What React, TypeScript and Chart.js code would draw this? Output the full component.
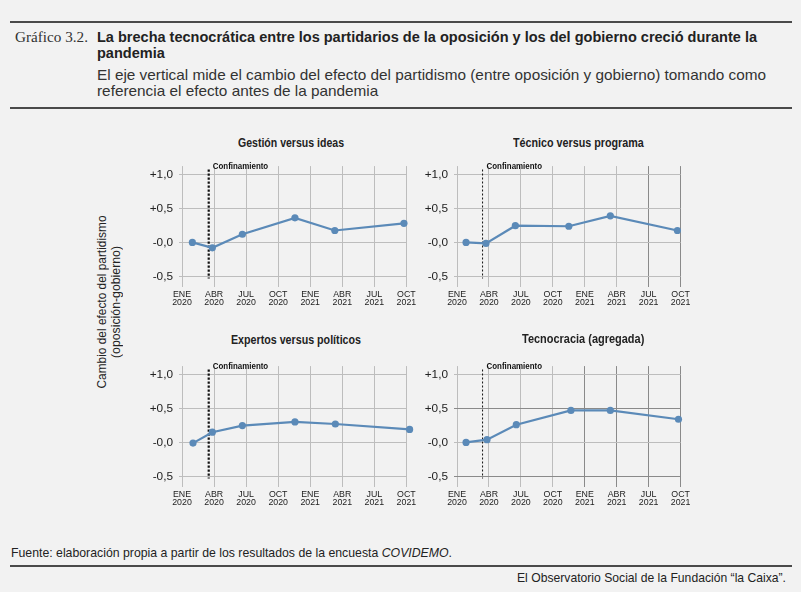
import React, { useEffect, useRef } from "react";
import { Chart, registerables } from "chart.js";
Chart.register(...registerables);

// ---- data ----
const monthTicks = [0, 3, 6, 9, 12, 15, 18, 21];
const xTickLabels = [
  ["ENE", "2020"], ["ABR", "2020"], ["JUL", "2020"], ["OCT", "2020"],
  ["ENE", "2021"], ["ABR", "2021"], ["JUL", "2021"], ["OCT", "2021"],
];
const yTicks = [-0.5, 0, 0.5, 1.0];
const yTickLabels = ["-0,5", "-0,0", "+0,5", "+1,0"];

const gestionX = [0.97, 2.84, 5.65, 10.57, 14.3, 20.77];
const gestionY = [0.0, -0.08, 0.12, 0.36, 0.175, 0.28];
const tecnicoX = [0.85, 2.72, 5.48, 10.5, 14.4, 20.7];
const tecnicoY = [0.0, -0.015, 0.245, 0.237, 0.39, 0.175];
const expertosX = [1.03, 2.84, 5.65, 10.57, 14.35, 21.3];
const expertosY = [-0.01, 0.15, 0.247, 0.3, 0.27, 0.19];
const tecnoX = [0.85, 2.82, 5.57, 10.7, 14.4, 20.8];
const tecnoY = [0.0, 0.04, 0.26, 0.47, 0.47, 0.34];

const panelTitles = [
  "Gestión versus ideas",
  "Técnico versus programa",
  "Expertos versus políticos",
  "Tecnocracia (agregada)",
];
const confinamientoMonth = [2.5, 2.4, 2.5, 2.4];

const SANS = '"Liberation Sans", Arial, sans-serif';
const SERIF = '"Liberation Serif", "DejaVu Serif", serif';
const LINE = "#5b8ab8";
const LIGHT = "#bdbdbd";
const DARK = "#8a8a8a";

let measureCtx: CanvasRenderingContext2D | null = null;
function measure(text: string, font: string): number {
  if (!measureCtx) measureCtx = document.createElement("canvas").getContext("2d");
  if (!measureCtx) return 1;
  measureCtx.font = font;
  return measureCtx.measureText(text).width || 1;
}

type FitProps = {
  left: number;
  top: number;
  width: number;
  refText: string;
  fontSize: number;
  bold?: boolean;
  family?: string;
  lineHeight?: number;
  color?: string;
  children: React.ReactNode;
};

function FitText({ left, top, width, refText, fontSize, bold, family = SANS, lineHeight = 16, color = "#222", children }: FitProps) {
  const font = `${bold ? "bold " : ""}${fontSize}px ${family}`;
  const k = width / measure(refText, font);
  return (
    <div
      style={{
        position: "absolute",
        left,
        top,
        fontFamily: family,
        fontSize,
        fontWeight: bold ? "bold" : "normal",
        lineHeight: `${lineHeight}px`,
        color,
        whiteSpace: "nowrap",
        transform: `scaleX(${k})`,
        transformOrigin: "left top",
      }}
    >
      {children}
    </div>
  );
}

type PanelDef = {
  xs: number[];
  ys: number[];
  title: string;
  titleW: number;
  conf: number;
  thick: boolean;
  areaLeft: number;
  areaRight: number;
  areaTop: number;
  areaBottom: number;
  titleX: number;
  titleY: number;
  darkX: number;
  darkY: boolean;
};

const panels: PanelDef[] = [
  { xs: gestionX, ys: gestionY, title: panelTitles[0], titleW: 106, conf: confinamientoMonth[0], thick: true,
    areaLeft: 182.3, areaRight: 406.7, areaTop: 165, areaBottom: 286.7, titleX: 290.8, titleY: 142.5, darkX: 99, darkY: false },
  { xs: tecnicoX, ys: tecnicoY, title: panelTitles[1], titleW: 130.7, conf: confinamientoMonth[1], thick: false,
    areaLeft: 456.7, areaRight: 680.3, areaTop: 165, areaBottom: 286.7, titleX: 578.7, titleY: 142.5, darkX: 18, darkY: false },
  { xs: expertosX, ys: expertosY, title: panelTitles[2], titleW: 130, conf: confinamientoMonth[2], thick: true,
    areaLeft: 182.3, areaRight: 406.7, areaTop: 365.3, areaBottom: 487, titleX: 295.7, titleY: 340, darkX: 99, darkY: false },
  { xs: tecnoX, ys: tecnoY, title: panelTitles[3], titleW: 122.3, conf: confinamientoMonth[3], thick: false,
    areaLeft: 456.7, areaRight: 680.3, areaTop: 365.3, areaBottom: 487, titleX: 582.8, titleY: 339, darkX: 12, darkY: true },
];

const PAD_L = 52;
const PAD_T = 12;
const PAD_B = 30;

function Panel({ p }: { p: PanelDef }) {
  const ref = useRef<HTMLCanvasElement>(null);
  const areaW = p.areaRight - p.areaLeft;
  const w = Math.round(areaW + PAD_L + 18);
  const padR = w - PAD_L - areaW;
  const h = Math.round(p.areaBottom - p.areaTop + PAD_T + PAD_B);
  const padB = h - PAD_T - (p.areaBottom - p.areaTop);

  useEffect(() => {
    if (!ref.current) return;
    const confPlugin = {
      id: "confinamiento",
      beforeDatasetsDraw(chart: any) {
        const { ctx, scales, chartArea } = chart;
        const px = scales.x.getPixelForValue(p.conf);
        ctx.save();
        ctx.strokeStyle = "#111";
        ctx.lineWidth = p.thick ? 2.2 : 1;
        ctx.setLineDash(p.thick ? [2.2, 1.8] : [2, 2]);
        ctx.beginPath();
        ctx.moveTo(px, scales.y.getPixelForValue(1.07));
        ctx.lineTo(px, scales.y.getPixelForValue(-0.53));
        ctx.stroke();
        ctx.setLineDash([]);
        ctx.fillStyle = "#111";
        ctx.font = `bold 9px ${SANS}`;
        const k = 55.5 / (ctx.measureText("Confinamiento").width || 1);
        ctx.textBaseline = "middle";
        ctx.translate(px + 4, chartArea.top);
        ctx.scale(k, 1);
        ctx.fillText("Confinamiento", 0, 0);
        ctx.restore();
      },
    };
    const chart = new Chart(ref.current, {
      type: "line",
      data: {
        datasets: [
          {
            data: p.xs.map((x, i) => ({ x, y: p.ys[i] })),
            borderColor: LINE,
            backgroundColor: LINE,
            pointBackgroundColor: LINE,
            pointBorderWidth: 0,
            pointRadius: 3.6,
            borderWidth: 2.2,
            tension: 0,
            clip: false as any,
          },
        ],
      },
      options: {
        animation: false,
        responsive: false,
        maintainAspectRatio: false,
        layout: { padding: { top: PAD_T, right: padR, left: 0, bottom: 0 } },
        plugins: { legend: { display: false }, tooltip: { enabled: false } },
        scales: {
          x: {
            type: "linear",
            min: 0,
            max: 21,
            afterBuildTicks: (s: any) => {
              s.ticks = monthTicks.map((v) => ({ value: v }));
            },
            afterFit: (s: any) => {
              s.height = padB;
            },
            ticks: {
              autoSkip: false,
              maxRotation: 0,
              padding: 4,
              color: "#222",
              font: { family: SANS, size: 8.8, lineHeight: 0.88 },
              callback: (_v: any, i: number) => xTickLabels[i],
            },
            grid: {
              drawTicks: false,
              lineWidth: 1,
              color: (ctx: any) => (ctx.tick && ctx.tick.value >= p.darkX ? DARK : LIGHT),
            },
            border: { display: false },
          },
          y: {
            min: -0.65,
            max: 1.12,
            afterBuildTicks: (s: any) => {
              s.ticks = yTicks.map((v) => ({ value: v }));
            },
            afterFit: (s: any) => {
              s.width = PAD_L;
            },
            ticks: {
              padding: 6,
              color: "#222",
              font: { family: SANS, size: 11.8 },
              callback: (_v: any, i: number) => yTickLabels[i],
            },
            grid: {
              drawTicks: true,
              tickLength: 3,
              lineWidth: 1,
              color: (ctx: any) =>
                p.darkY && ctx.tick && Math.abs(Math.abs(ctx.tick.value) - 0.5) < 1e-6 ? DARK : LIGHT,
            },
            border: { display: false },
          },
        },
      } as any,
      plugins: [confPlugin],
    });
    return () => chart.destroy();
  }, []);

  return (
    <>
      <FitText
        left={p.titleX - p.titleW / 2}
        top={p.titleY - 8}
        width={p.titleW}
        refText={p.title}
        fontSize={12.5}
        bold
        color="#222"
      >
        {p.title}
      </FitText>
      <canvas
        ref={ref}
        width={w}
        height={h}
        style={{
          position: "absolute",
          left: p.areaLeft - PAD_L,
          top: p.areaTop - PAD_T,
          width: w,
          height: h,
        }}
      />
    </>
  );
}

const TITLE1 = "La brecha tecnocrática entre los partidarios de la oposición y los del gobierno creció durante la";
const TITLE2 = "pandemia";
const SUB1 = "El eje vertical mide el cambio del efecto del partidismo (entre oposición y gobierno) tomando como";
const SUB2 = "referencia el efecto antes de la pandemia";
const FUENTE = "Fuente: elaboración propia a partir de los resultados de la encuesta COVIDEMO.";
const CREDIT = "El Observatorio Social de la Fundación “la Caixa”.";
const YT1 = "Cambio del efecto del partidismo";
const YT2 = "(oposición-gobierno)";

export default function App() {
  const rule = (top: number) => (
    <div style={{ position: "absolute", left: 10, width: 782, top, height: 2, background: "#4a4a4a" }} />
  );
  const ytFont = `12px ${SANS}`;
  const yk1 = 173 / measure(YT1, ytFont);
  const yk2 = 112 / measure(YT2, ytFont);
  return (
    <div
      style={{
        position: "absolute",
        left: 0,
        top: 0,
        width: 801,
        height: 592,
        background: "#f2f2f2",
        overflow: "hidden",
        color: "#222",
      }}
    >
      {rule(21)}
      <FitText left={15} top={29} width={73} refText="Gráfico 3.2." fontSize={14.5} family={SERIF} color="#333">
        Gráfico 3.2.
      </FitText>
      <FitText left={97} top={29} width={660} refText={TITLE1} fontSize={14.5} bold color="#222">
        {TITLE1}
        <br />
        {TITLE2}
      </FitText>
      <FitText left={97} top={67} width={669} refText={SUB1} fontSize={14.5} color="#333">
        {SUB1}
        <br />
        {SUB2}
      </FitText>
      {rule(107)}

      <div
        style={{
          position: "absolute",
          left: 110 - 150,
          top: 302 - 15,
          width: 300,
          height: 30,
          lineHeight: "14.4px",
          textAlign: "center",
          transform: "rotate(-90deg)",
          fontFamily: SANS,
          fontSize: 12,
          color: "#222",
          whiteSpace: "nowrap",
        }}
      >
        <div style={{ transform: `scaleX(${yk1})` }}>{YT1}</div>
        <div style={{ transform: `scaleX(${yk2})` }}>{YT2}</div>
      </div>

      {panels.map((p, i) => (
        <Panel key={i} p={p} />
      ))}

      <FitText left={11} top={545} width={441} refText={FUENTE} fontSize={13.5} color="#222">
        Fuente: elaboración propia a partir de los resultados de la encuesta <i>COVIDEMO</i>.
      </FitText>
      {rule(565)}
      <FitText left={517} top={570} width={269} refText={CREDIT} fontSize={13.5} color="#222">
        {CREDIT}
      </FitText>
    </div>
  );
}
